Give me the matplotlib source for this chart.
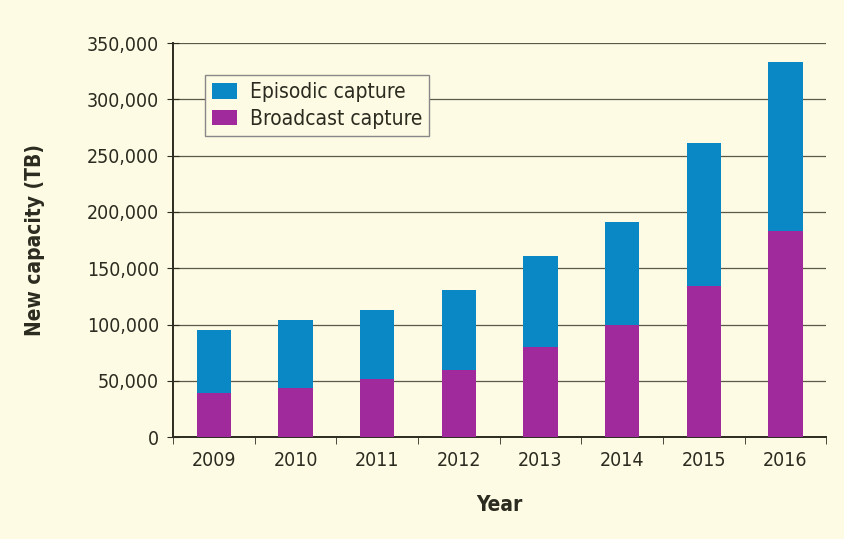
import matplotlib.pyplot as plt
from matplotlib.ticker import FuncFormatter, MultipleLocator
import numpy as np

plt.rcParams['font.family'] = ['DejaVu Sans']
plt.rcParams['font.stretch'] = 'condensed'

years = ['2009', '2010', '2011', '2012', '2013', '2014', '2015', '2016']
broadcast = [39000, 44000, 51500, 59500, 80000, 100000, 134000, 183000]
episodic = [56000, 60000, 61500, 71500, 81000, 91000, 127000, 150000]

bg = '#fdfbe4'
blue = '#0a88c6'
magenta = '#a02a9c'
ink = '#2b2b20'

fig = plt.figure(figsize=(8.44, 5.39), dpi=100, facecolor=bg)
ax = fig.add_axes([0.205, 0.189, 0.774, 0.731], facecolor=bg)

x = np.arange(len(years))
ax.bar(x, broadcast, width=0.42, color=magenta, zorder=3, label='Broadcast capture')
ax.bar(x, episodic, width=0.42, bottom=broadcast, color=blue, zorder=3, label='Episodic capture')

ax.set_xlim(-0.5, len(years) - 0.5)
ax.set_ylim(0, 350000)
ax.yaxis.set_major_locator(MultipleLocator(50000))
ax.yaxis.set_major_formatter(FuncFormatter(lambda v, p: f'{int(v):,}'))
ax.grid(axis='y', color='#5a5a48', linewidth=0.9, zorder=0)

# category labels centred, tick marks on the boundaries
ax.set_xticks(x)
ax.set_xticklabels(years)
ax.tick_params(axis='x', which='major', length=0, pad=10, labelsize=14, colors=ink)
ax.set_xticks(np.arange(len(years) + 1) - 0.5, minor=True)
ax.tick_params(axis='x', which='minor', length=5, direction='out', color=ink)
ax.tick_params(axis='y', length=8, direction='inout', labelsize=14, colors=ink, pad=6)

for s in ['top', 'right']:
    ax.spines[s].set_visible(False)
ax.spines['left'].set_color(ink)
ax.spines['bottom'].set_color(ink)
ax.spines['left'].set_linewidth(1.4)
ax.spines['bottom'].set_linewidth(1.4)

ax.set_xlabel('Year', fontsize=15, fontweight='bold', color=ink, labelpad=18)
ax.set_ylabel('New capacity (TB)', fontsize=15, fontweight='bold', color=ink, labelpad=30)

handles, labels = ax.get_legend_handles_labels()
leg = ax.legend(handles[::-1], labels[::-1], loc='upper left', bbox_to_anchor=(0.033, 0.945),
                fontsize=15, frameon=True, fancybox=False, handlelength=1.2, handleheight=0.8,
                borderpad=0.35, labelspacing=0.3, handletextpad=0.6)
leg.get_frame().set_facecolor(bg)
leg.get_frame().set_edgecolor('#888888')
leg.get_frame().set_linewidth(1.0)
leg.get_frame().set_alpha(1)
for t in leg.get_texts():
    t.set_color(ink)

fig.savefig('out.png', dpi=100, facecolor=bg)
